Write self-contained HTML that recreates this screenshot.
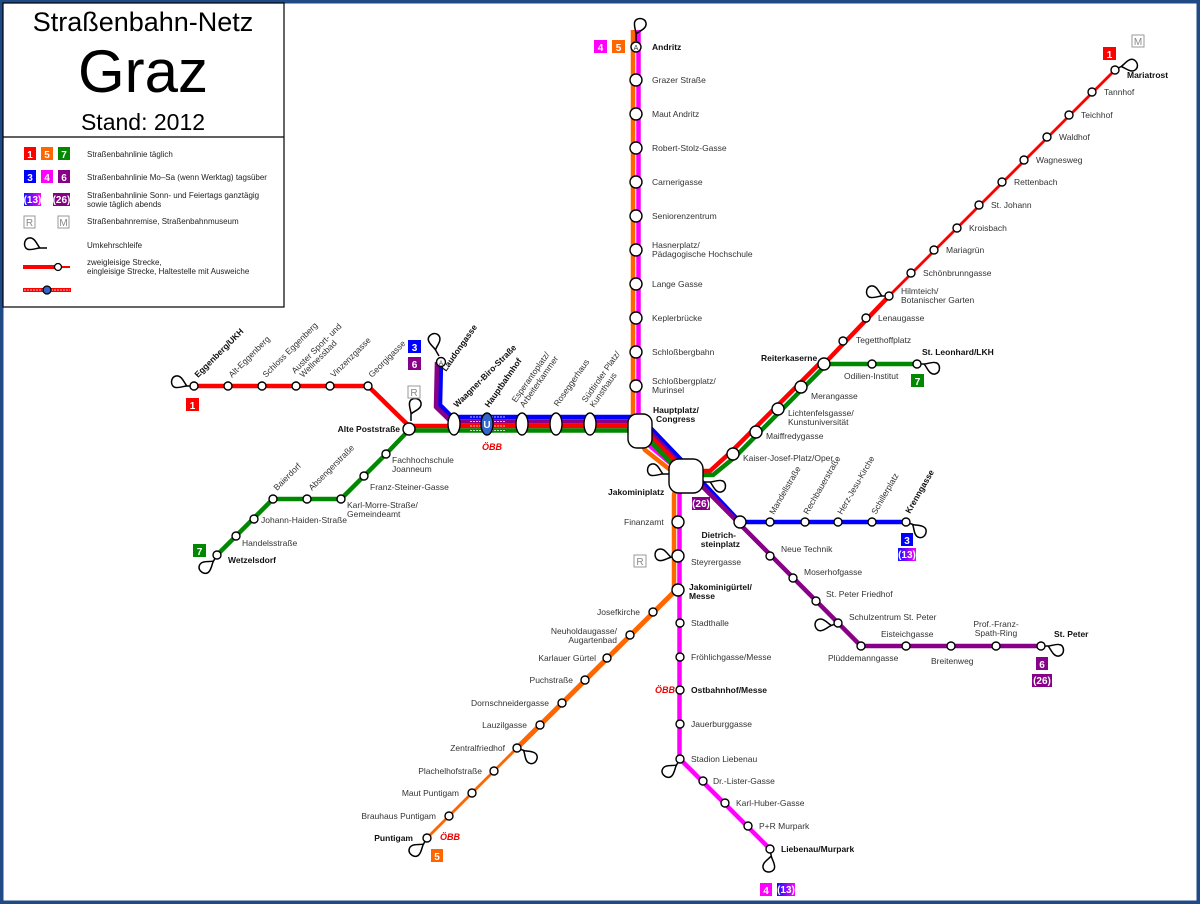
<!DOCTYPE html>
<html><head><meta charset="utf-8"><style>
html,body{margin:0;padding:0;background:#fff}
svg{display:block}
text{font-family:"Liberation Sans",Arial,sans-serif}
.l{font-size:8.5px;fill:#333}
.b{font-size:8.5px;fill:#111;font-weight:bold}
.g{font-size:8px;fill:#222}
.bt{font-size:10px;fill:#fff;font-weight:bold;text-anchor:middle}
.obb{font-size:9px;fill:#e00;font-weight:bold;font-style:italic}
</style></head><body>
<svg width="1200" height="904" viewBox="0 0 1200 904" xmlns="http://www.w3.org/2000/svg">
<defs>
<path id="lp" d="M0,0 L-7,0 C-10,-3 -12,-11 -18,-10 C-24,-9 -24,1 -18,1.5 C-14,2 -10,0 -7,0" fill="none" stroke="#000" stroke-width="1.5"/>
<linearGradient id="g13" x1="0" x2="1"><stop offset="0" stop-color="#1010ff"/><stop offset="1" stop-color="#ff00ff"/></linearGradient>
</defs>
<rect x="0" y="0" width="1200" height="904" fill="#fff"/>
<rect x="1.5" y="1.5" width="1197" height="901" fill="none" stroke="#1f4a86" stroke-width="4"/>

<rect x="3" y="3" width="281" height="304" fill="#fff" stroke="#000" stroke-width="1.2"/>
<line x1="3" y1="137" x2="284" y2="137" stroke="#000" stroke-width="1.2"/>
<text x="143" y="31" font-size="27" text-anchor="middle">Straßenbahn-Netz</text>
<text x="143" y="92" font-size="60" text-anchor="middle">Graz</text>
<text x="143" y="130" font-size="23" text-anchor="middle">Stand: 2012</text>

<rect x="24" y="147" width="12" height="13" fill="#f00"/><text class="bt" x="30" y="158">1</text>
<rect x="41" y="147" width="12" height="13" fill="#f60"/><text class="bt" x="47" y="158">5</text>
<rect x="58" y="147" width="12" height="13" fill="#080"/><text class="bt" x="64" y="158">7</text>
<text class="g" x="87" y="157">Straßenbahnlinie täglich</text>
<rect x="24" y="170" width="12" height="13" fill="#00f"/><text class="bt" x="30" y="181">3</text>
<rect x="41" y="170" width="12" height="13" fill="#f0f"/><text class="bt" x="47" y="181">4</text>
<rect x="58" y="170" width="12" height="13" fill="#808"/><text class="bt" x="64" y="181">6</text>
<text class="g" x="87" y="180">Straßenbahnlinie Mo–Sa (wenn Werktag) tagsüber</text>
<rect x="24" y="193" width="17" height="13" fill="url(#g13)"/><text class="bt" x="32.5" y="203" font-size="9">(13)</text>
<rect x="53" y="193" width="17" height="13" fill="#808"/><text class="bt" x="61.5" y="203" font-size="9">(26)</text>
<text class="g" x="87" y="198">Straßenbahnlinie Sonn- und Feiertags ganztägig</text>
<text class="g" x="87" y="207">sowie täglich abends</text>
<rect x="24" y="216" width="11" height="12" fill="#fff" stroke="#999"/><text x="29.5" y="226" font-size="10" fill="#888" text-anchor="middle">R</text>
<rect x="58" y="216" width="11" height="12" fill="#fff" stroke="#999"/><text x="63.5" y="226" font-size="10" fill="#888" text-anchor="middle">M</text>
<text class="g" x="87" y="224">Straßenbahnremise, Straßenbahnmuseum</text>
<use href="#lp" transform="translate(47,248)"/>
<text class="g" x="87" y="248">Umkehrschleife</text>
<line x1="23" y1="267" x2="55" y2="267" stroke="#f00" stroke-width="4"/>
<line x1="55" y1="267" x2="70" y2="267" stroke="#f00" stroke-width="2"/>
<circle cx="58" cy="267" r="3.5" fill="#fff" stroke="#000" stroke-width="1.3"/>
<text class="g" x="87" y="265">zweigleisige Strecke,</text>
<text class="g" x="87" y="274">eingleisige Strecke, Haltestelle mit Ausweiche</text>
<line x1="23" y1="290" x2="71" y2="290" stroke="#f00" stroke-width="4"/>
<line x1="24" y1="290" x2="70" y2="290" stroke="#fff" stroke-width="0.8" stroke-dasharray="2,1"/>
<circle cx="47" cy="290" r="4" fill="#36c" stroke="#000" stroke-width="1.3"/>

<g fill="none" stroke-linejoin="round">
<polyline points="633,30 633,425 645,450 678,476 674,495 674,590" stroke="#f60" stroke-width="4.5"/>
<polyline points="638.5,30 638.5,425 650,446 681,472 679.5,495 679.5,590 679.5,759" stroke="#f0f" stroke-width="4.5"/>
<polyline points="676,590 517,748" stroke="#f60" stroke-width="5"/>
<polyline points="517,748 427,838" stroke="#f60" stroke-width="2.8"/>
<polyline points="680,759 770,849" stroke="#f0f" stroke-width="4.5"/>
<polyline points="441,362 440,405 452,417 640,417 689,468 740,522 906,522" stroke="#00f" stroke-width="4.5"/>
<polyline points="437,362 436,407 451,421.5 640,421.5 686,470 861,646 1041,646" stroke="#808" stroke-width="4.5"/>
<polyline points="194,386 368,386 409,426 640,426 685,471 702,471 710,471 733,450 822,361" stroke="#f00" stroke-width="4.5"/>
<polyline points="409,430.5 640,430.5 682,474 702,475 713,475 735,457 824,367" stroke="#080" stroke-width="4.5"/>
<polyline points="409,430 386,454 341,499 273,499 217,555" stroke="#080" stroke-width="4.5"/>
<polyline points="824,364 917,364" stroke="#080" stroke-width="4.5"/>
<polyline points="824,364 889,296" stroke="#f00" stroke-width="4.5"/>
<polyline points="889,296 1115,70" stroke="#f00" stroke-width="2.8"/>
</g>

<g stroke="#fff" stroke-width="0.8" stroke-dasharray="2,1">
<line x1="470" y1="417" x2="505" y2="417"/><line x1="470" y1="421.5" x2="505" y2="421.5"/>
<line x1="470" y1="426" x2="505" y2="426"/><line x1="470" y1="430.5" x2="505" y2="430.5"/>
</g>

<use href="#lp" transform="translate(194,386)"/>
<use href="#lp" transform="translate(411,421) rotate(90)"/>
<use href="#lp" transform="translate(439,356) rotate(60)"/>
<use href="#lp" transform="translate(636,41) rotate(90)"/>
<use href="#lp" transform="translate(1115,70) rotate(150)"/>
<use href="#lp" transform="translate(889,296)"/>
<use href="#lp" transform="translate(917,364) rotate(180)"/>
<use href="#lp" transform="translate(670,474)"/>
<use href="#lp" transform="translate(703,482) rotate(180)"/>
<use href="#lp" transform="translate(906,522) rotate(200)"/>
<use href="#lp" transform="translate(1041,646) rotate(180)"/>
<use href="#lp" transform="translate(838,623) rotate(-20)"/>
<use href="#lp" transform="translate(678,556) rotate(-10)"/>
<use href="#lp" transform="translate(517,748) rotate(200)"/>
<use href="#lp" transform="translate(427,838) rotate(-60)"/>
<use href="#lp" transform="translate(680,759) rotate(-60)"/>
<use href="#lp" transform="translate(770,849) rotate(-100)"/>
<use href="#lp" transform="translate(217,555) rotate(-60)"/>

<g fill="#fff" stroke="#000" stroke-width="1.4">
<circle cx="636" cy="47" r="5"/><circle cx="636" cy="80" r="6"/><circle cx="636" cy="114" r="6"/><circle cx="636" cy="148" r="6"/><circle cx="636" cy="182" r="6"/><circle cx="636" cy="216" r="6"/><circle cx="636" cy="250" r="6"/><circle cx="636" cy="284" r="6"/><circle cx="636" cy="318" r="6"/><circle cx="636" cy="352" r="6"/><circle cx="636" cy="386" r="6"/>
<rect x="628" y="414" width="24" height="34" rx="9"/>
<rect x="669" y="459" width="34" height="34" rx="10"/>
<ellipse cx="454" cy="424" rx="6" ry="11"/>
<ellipse cx="487" cy="424" rx="6" ry="11" fill="#36c"/>
<ellipse cx="522" cy="424" rx="6" ry="11"/>
<ellipse cx="556" cy="424" rx="6" ry="11"/>
<ellipse cx="590" cy="424" rx="6" ry="11"/>
<circle cx="409" cy="429" r="6"/>
<circle cx="441" cy="362" r="4.5"/>
<circle cx="194" cy="386" r="4"/><circle cx="228" cy="386" r="4"/><circle cx="262" cy="386" r="4"/><circle cx="296" cy="386" r="4"/><circle cx="330" cy="386" r="4"/><circle cx="368" cy="386" r="4"/>
<circle cx="386" cy="454" r="4"/><circle cx="364" cy="476" r="4"/><circle cx="341" cy="499" r="4"/><circle cx="307" cy="499" r="4"/><circle cx="273" cy="499" r="4"/><circle cx="254" cy="519" r="4"/><circle cx="236" cy="536" r="4"/><circle cx="217" cy="555" r="4"/>
<circle cx="733" cy="454" r="6"/><circle cx="756" cy="432" r="6"/><circle cx="778" cy="409" r="6"/><circle cx="801" cy="387" r="6"/><circle cx="824" cy="364" r="6"/>
<circle cx="872" cy="364" r="4"/><circle cx="917" cy="364" r="4"/>
<circle cx="843" cy="341" r="4"/><circle cx="866" cy="318" r="4"/><circle cx="889" cy="296" r="4"/><circle cx="911" cy="273" r="4"/><circle cx="934" cy="250" r="4"/><circle cx="957" cy="228" r="4"/><circle cx="979" cy="205" r="4"/><circle cx="1002" cy="182" r="4"/><circle cx="1024" cy="160" r="4"/><circle cx="1047" cy="137" r="4"/><circle cx="1069" cy="115" r="4"/><circle cx="1092" cy="92" r="4"/><circle cx="1115" cy="70" r="4"/>
<circle cx="740" cy="522" r="6"/><circle cx="770" cy="522" r="4"/><circle cx="805" cy="522" r="4"/><circle cx="838" cy="522" r="4"/><circle cx="872" cy="522" r="4"/><circle cx="906" cy="522" r="4"/>
<circle cx="770" cy="556" r="4"/><circle cx="793" cy="578" r="4"/><circle cx="816" cy="601" r="4"/><circle cx="838" cy="623" r="4"/><circle cx="861" cy="646" r="4"/><circle cx="906" cy="646" r="4"/><circle cx="951" cy="646" r="4"/><circle cx="996" cy="646" r="4"/><circle cx="1041" cy="646" r="4"/>
<circle cx="678" cy="522" r="6"/><circle cx="678" cy="556" r="6"/><circle cx="678" cy="590" r="6"/>
<circle cx="680" cy="623" r="4"/><circle cx="680" cy="657" r="4"/><circle cx="680" cy="690" r="4"/><circle cx="680" cy="724" r="4"/><circle cx="680" cy="759" r="4"/>
<circle cx="703" cy="781" r="4"/><circle cx="725" cy="803" r="4"/><circle cx="748" cy="826" r="4"/><circle cx="770" cy="849" r="4"/>
<circle cx="653" cy="612" r="4"/><circle cx="630" cy="635" r="4"/><circle cx="607" cy="658" r="4"/><circle cx="585" cy="680" r="4"/><circle cx="562" cy="703" r="4"/><circle cx="540" cy="725" r="4"/><circle cx="517" cy="748" r="4"/><circle cx="494" cy="771" r="4"/><circle cx="472" cy="793" r="4"/><circle cx="449" cy="816" r="4"/><circle cx="427" cy="838" r="4"/>
</g>
<text x="636" y="50" font-size="7" text-anchor="middle" fill="#333">A</text>
<text x="441" y="365" font-size="6" text-anchor="middle" fill="#333">A</text>
<text x="487" y="428" font-size="10" fill="#fff" text-anchor="middle" font-weight="bold">U</text>

<text class="b" x="652" y="50">Andritz</text>
<text class="l" x="652" y="83">Grazer Straße</text>
<text class="l" x="652" y="117">Maut Andritz</text>
<text class="l" x="652" y="151">Robert-Stolz-Gasse</text>
<text class="l" x="652" y="185">Carnerigasse</text>
<text class="l" x="652" y="219">Seniorenzentrum</text>
<text class="l" x="652" y="248">Hasnerplatz/</text><text class="l" x="652" y="257">Pädagogische Hochschule</text>
<text class="l" x="652" y="287">Lange Gasse</text>
<text class="l" x="652" y="321">Keplerbrücke</text>
<text class="l" x="652" y="355">Schloßbergbahn</text>
<text class="l" x="652" y="384">Schloßbergplatz/</text><text class="l" x="652" y="393">Murinsel</text>
<text class="b" x="653" y="413">Hauptplatz/</text><text class="b" x="656" y="422">Congress</text>
<text class="b" x="608" y="495">Jakominiplatz</text>
<text class="l" x="624" y="525">Finanzamt</text>
<text class="l" x="691" y="565">Steyrergasse</text>
<text class="b" x="689" y="590">Jakominigürtel/</text><text class="b" x="689" y="599">Messe</text>
<text class="l" x="691" y="626">Stadthalle</text>
<text class="l" x="691" y="660">Fröhlichgasse/Messe</text>
<text class="b" x="691" y="693">Ostbahnhof/Messe</text>
<text class="l" x="691" y="727">Jauerburggasse</text>
<text class="l" x="691" y="762">Stadion Liebenau</text>
<text class="l" x="713" y="784">Dr.-Lister-Gasse</text>
<text class="l" x="736" y="806">Karl-Huber-Gasse</text>
<text class="l" x="759" y="829">P+R Murpark</text>
<text class="b" x="781" y="852">Liebenau/Murpark</text>

<g text-anchor="end">
<text class="l" x="640" y="615">Josefkirche</text>
<text class="l" x="617" y="634">Neuholdaugasse/</text><text class="l" x="617" y="643">Augartenbad</text>
<text class="l" x="596" y="661">Karlauer Gürtel</text>
<text class="l" x="573" y="683">Puchstraße</text>
<text class="l" x="549" y="706">Dornschneidergasse</text>
<text class="l" x="527" y="728">Lauzilgasse</text>
<text class="l" x="505" y="751">Zentralfriedhof</text>
<text class="l" x="482" y="774">Plachelhofstraße</text>
<text class="l" x="459" y="796">Maut Puntigam</text>
<text class="l" x="436" y="819">Brauhaus Puntigam</text>
<text class="b" x="413" y="841">Puntigam</text>
<text class="b" x="400" y="432">Alte Poststraße</text>
</g>

<text class="l" x="743" y="461">Kaiser-Josef-Platz/Oper</text>
<text class="l" x="766" y="439">Maiffredygasse</text>
<text class="l" x="788" y="416">Lichtenfelsgasse/</text><text class="l" x="788" y="425">Kunstuniversität</text>
<text class="l" x="811" y="399">Merangasse</text>
<text class="b" x="761" y="361">Reiterkaserne</text>
<text class="l" x="844" y="379">Odilien-Institut</text>
<text class="b" x="922" y="355">St. Leonhard/LKH</text>
<text class="l" x="856" y="343">Tegetthoffplatz</text>
<text class="l" x="878" y="321">Lenaugasse</text>
<text class="l" x="901" y="294">Hilmteich/</text><text class="l" x="901" y="303">Botanischer Garten</text>
<text class="l" x="923" y="276">Schönbrunngasse</text>
<text class="l" x="946" y="253">Mariagrün</text>
<text class="l" x="969" y="231">Kroisbach</text>
<text class="l" x="991" y="208">St. Johann</text>
<text class="l" x="1014" y="185">Rettenbach</text>
<text class="l" x="1036" y="163">Wagnesweg</text>
<text class="l" x="1059" y="140">Waldhof</text>
<text class="l" x="1081" y="118">Teichhof</text>
<text class="l" x="1104" y="95">Tannhof</text>
<text class="b" x="1127" y="78">Mariatrost</text>

<text class="b" x="736" y="538" text-anchor="end">Dietrich-</text><text class="b" x="740" y="547" text-anchor="end">steinplatz</text>
<text class="l" x="781" y="552">Neue Technik</text>
<text class="l" x="804" y="575">Moserhofgasse</text>
<text class="l" x="826" y="597">St. Peter Friedhof</text>
<text class="l" x="849" y="620">Schulzentrum St. Peter</text>
<text class="l" x="881" y="637">Eisteichgasse</text>
<text class="l" x="828" y="661">Plüddemanngasse</text>
<text class="l" x="931" y="664">Breitenweg</text>
<text class="l" x="996" y="627" text-anchor="middle">Prof.-Franz-</text><text class="l" x="996" y="636" text-anchor="middle">Spath-Ring</text>
<text class="b" x="1054" y="637">St. Peter</text>
<text class="l" transform="translate(774,515) rotate(-60)">Mandellstraße</text>
<text class="l" transform="translate(808,515) rotate(-60)">Rechbauerstraße</text>
<text class="l" transform="translate(842,515) rotate(-60)">Herz-Jesu-Kirche</text>
<text class="l" transform="translate(876,515) rotate(-60)">Schillerplatz</text>
<text class="b" transform="translate(910,514) rotate(-60)">Krenngasse</text>

<text class="b" transform="translate(198,378) rotate(-45)">Eggenberg/UKH</text>
<text class="l" transform="translate(232,378) rotate(-45)">Alt-Eggenberg</text>
<text class="l" transform="translate(266,378) rotate(-45)">Schloss Eggenberg</text>
<text class="l" transform="translate(295,374) rotate(-45)">Auster Sport- und</text>
<text class="l" transform="translate(303,378) rotate(-45)">Wellnessbad</text>
<text class="l" transform="translate(334,378) rotate(-45)">Vinzenzgasse</text>
<text class="l" transform="translate(372,378) rotate(-45)">Georgigasse</text>
<text class="l" x="392" y="463">Fachhochschule</text><text class="l" x="392" y="472">Joanneum</text>
<text class="l" x="370" y="490">Franz-Steiner-Gasse</text>
<text class="l" x="347" y="508">Karl-Morre-Straße/</text><text class="l" x="347" y="517">Gemeindeamt</text>
<text class="l" transform="translate(312,491) rotate(-45)">Absengerstraße</text>
<text class="l" transform="translate(277,491) rotate(-45)">Baierdorf</text>
<text class="l" x="261" y="523">Johann-Haiden-Straße</text>
<text class="l" x="242" y="546">Handelsstraße</text>
<text class="b" x="228" y="563">Wetzelsdorf</text>

<text class="b" transform="translate(446,372) rotate(-55)">Laudongasse</text>
<text class="b" transform="translate(457,408) rotate(-45)">Waagner-Biro-Straße</text>
<text class="b" transform="translate(489,408) rotate(-55)">Hauptbahnhof</text>
<text class="l" transform="translate(516,403) rotate(-55)">Esperantoplatz/</text>
<text class="l" transform="translate(524,408) rotate(-55)">Arbeiterkammer</text>
<text class="l" transform="translate(558,407) rotate(-55)">Roseggerhaus</text>
<text class="l" transform="translate(586,403) rotate(-55)">Südtiroler Platz/</text>
<text class="l" transform="translate(594,408) rotate(-55)">Kunsthaus</text>

<text class="obb" x="482" y="450">ÖBB</text>
<text class="obb" x="655" y="693">ÖBB</text>
<text class="obb" x="440" y="840">ÖBB</text>

<rect x="186" y="398" width="13" height="13" fill="#f00"/><text class="bt" x="192.5" y="409">1</text>
<rect x="408" y="386" width="12" height="12" fill="#fff" stroke="#999"/><text x="414" y="396" font-size="10" fill="#888" text-anchor="middle">R</text>
<rect x="408" y="340" width="13" height="13" fill="#00f"/><text class="bt" x="414.5" y="351">3</text>
<rect x="408" y="357" width="13" height="13" fill="#808"/><text class="bt" x="414.5" y="368">6</text>
<rect x="594" y="40" width="13" height="13" fill="#f0f"/><text class="bt" x="600.5" y="51">4</text>
<rect x="612" y="40" width="13" height="13" fill="#f60"/><text class="bt" x="618.5" y="51">5</text>
<rect x="1103" y="47" width="13" height="13" fill="#f00"/><text class="bt" x="1109.5" y="58">1</text>
<rect x="1132" y="35" width="12" height="12" fill="#fff" stroke="#999"/><text x="1138" y="45" font-size="10" fill="#888" text-anchor="middle">M</text>
<rect x="911" y="374" width="13" height="13" fill="#080"/><text class="bt" x="917.5" y="385">7</text>
<rect x="193" y="544" width="13" height="13" fill="#080"/><text class="bt" x="199.5" y="555">7</text>
<rect x="692" y="497" width="18" height="13" fill="#808"/><text class="bt" x="701" y="507" font-size="9">(26)</text>
<rect x="901" y="533" width="12" height="13" fill="#00f"/><text class="bt" x="907" y="544">3</text>
<rect x="898" y="548" width="18" height="13" fill="url(#g13)"/><text class="bt" x="907" y="558" font-size="9">(13)</text>
<rect x="1036" y="657" width="12" height="13" fill="#808"/><text class="bt" x="1042" y="668">6</text>
<rect x="1032" y="674" width="20" height="13" fill="#808"/><text class="bt" x="1042" y="684" font-size="9">(26)</text>
<rect x="634" y="555" width="12" height="12" fill="#fff" stroke="#999"/><text x="640" y="565" font-size="10" fill="#888" text-anchor="middle">R</text>
<rect x="431" y="849" width="12" height="13" fill="#f60"/><text class="bt" x="437" y="860">5</text>
<rect x="760" y="883" width="12" height="13" fill="#f0f"/><text class="bt" x="766" y="894">4</text>
<rect x="777" y="883" width="18" height="13" fill="url(#g13)"/><text class="bt" x="786" y="893" font-size="9">(13)</text>
</svg>
</body></html>
